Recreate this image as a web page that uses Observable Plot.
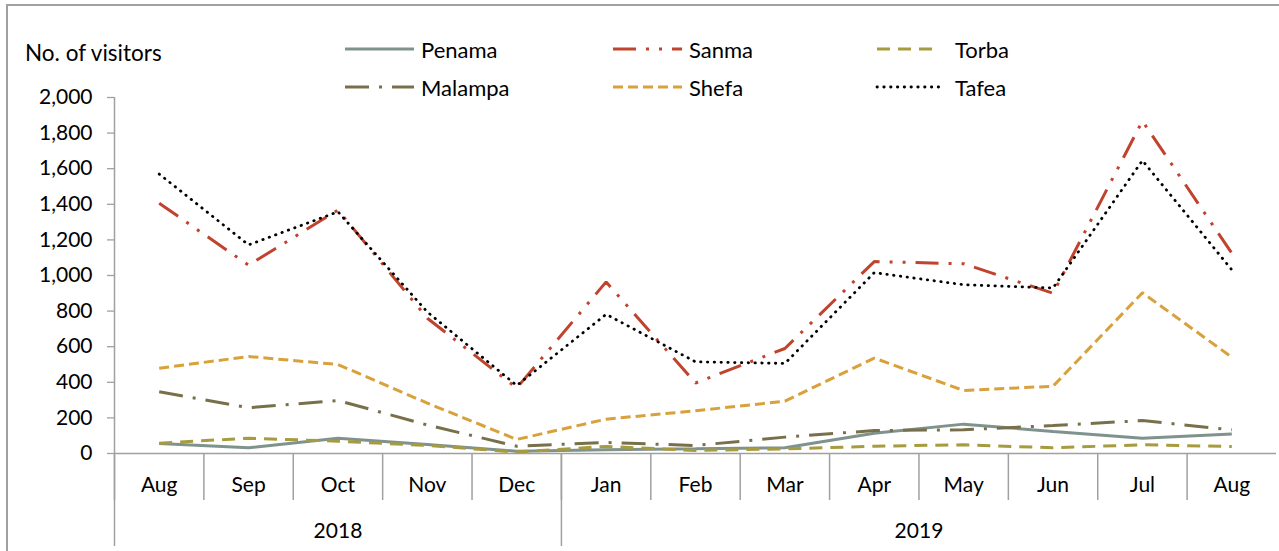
<!DOCTYPE html>
<html>
<head>
<meta charset="utf-8">
<script src="https://cdn.jsdelivr.net/npm/d3@7"></script>
<script src="https://cdn.jsdelivr.net/npm/@observablehq/plot@0.6"></script>
<style>
  body { margin: 0; background: #fff; }
  #wrap { position: relative; width: 1279px; height: 551px; overflow: hidden; font-family: Lato, sans-serif; }
  #frame { position: absolute; left: 6px; top: 4px; width: 1300px; height: 600px; border-left: 2px solid #a0a0a0; border-top: 2px solid #a0a0a0; box-sizing: border-box; }
  #title { position: absolute; left: 25px; top: 39px; font-size: 22.5px; color: #000; white-space: nowrap; }
  .leg { position: absolute; display: flex; align-items: center; font-size: 22px; color: #000; white-space: nowrap; }
  #chart { position: absolute; left: 0; top: 0; }
</style>
</head>
<body>
<div id="wrap">
  <div id="chart"></div>
  <div id="frame"></div>
  <div id="title">No. of visitors</div>
  <div id="legend"></div>
</div>
<script>
// ---- data ----
const months = ["Aug","Sep","Oct","Nov","Dec","Jan","Feb","Mar","Apr","May","Jun","Jul","Aug"];
const years  = ["2018","2018","2018","2018","2018","2019","2019","2019","2019","2019","2019","2019","2019"];
const yTicks = [0,200,400,600,800,1000,1200,1400,1600,1800,2000];

const seriesNames = ["Penama","Sanma","Torba","Malampa","Shefa","Tafea"];
const penama  = [56, 32, 86, 50, 13, 21, 26, 32, 114, 165, 124, 86, 110];
const sanma   = [1406, 1058, 1368, 760, 368, 964, 396, 590, 1078, 1066, 900, 1868, 1125];
const torba   = [58, 86, 69, 45, 8, 40, 17, 26, 41, 49, 32, 49, 39];
const malampa = [347, 257, 298, 160, 41, 62, 45, 92, 129, 133, 157, 185, 133];
const shefa   = [479, 545, 500, 283, 79, 193, 240, 294, 536, 354, 378, 903, 541];
const tafea   = [1570, 1172, 1358, 795, 382, 782, 515, 506, 1016, 948, 930, 1646, 1032];

// ---- styles ----
const styles = {
  Penama:  {stroke: "#7f938c", strokeWidth: 3,   dash: null,                 cap: "butt"},
  Sanma:   {stroke: "#c0432d", strokeWidth: 3,   dash: "23 10 3 10 3 10",    cap: "butt"},
  Torba:   {stroke: "#a69b3f", strokeWidth: 3,   dash: "13 8",               cap: "butt"},
  Malampa: {stroke: "#78704a", strokeWidth: 3,   dash: "24 10 3 10",         cap: "butt"},
  Shefa:   {stroke: "#d9a13b", strokeWidth: 3,   dash: "10 5",               cap: "butt"},
  Tafea:   {stroke: "#000000", strokeWidth: 2.8, dash: "0.4 6.4",            cap: "round"}
};
const seriesValues = {Penama: penama, Sanma: sanma, Torba: torba, Malampa: malampa, Shefa: shefa, Tafea: tafea};

const idx = months.map((_, i) => i);
const gray = "#a0a0a0";

// year groups
const yearNames = Array.from(new Set(years));
const yearGroups = yearNames.map(y => {
  const ii = idx.filter(i => years[i] === y);
  return {year: y, start: d3.min(ii) - 0.5, end: d3.max(ii) + 0.5, mid: (d3.min(ii) + d3.max(ii)) / 2};
});

const lineMarks = seriesNames.map(name => {
  const s = styles[name];
  const rows = seriesValues[name].map((v, i) => ({i, v}));
  return Plot.line(rows, {
    x: "i", y: "v", stroke: s.stroke, strokeWidth: s.strokeWidth,
    strokeDasharray: s.dash ?? undefined, strokeLinecap: s.cap, strokeLinejoin: "miter"
  });
});

const chart = Plot.plot({
  width: 1279,
  height: 551,
  marginLeft: 114,
  marginRight: 3,
  marginTop: 97,
  marginBottom: 98,
  style: {fontFamily: "Lato, sans-serif", fontSize: "21px", color: "#000", background: "transparent", overflow: "visible"},
  x: {type: "linear", domain: [-0.5, months.length - 0.5], axis: null},
  y: {domain: [0, 2000], axis: null},
  marks: [
    // y ticks
    Plot.axisY({ticks: yTicks, tickSize: 7, tickFormat: () => "", stroke: gray, strokeWidth: 1.3, label: null}),
    Plot.axisY({ticks: yTicks, tickSize: 0, tickPadding: 22, tickFormat: d3.format(","), fill: "#000", label: null}),
    // axis lines
    Plot.ruleX([-0.5], {stroke: gray, strokeWidth: 1.5}),
    Plot.ruleY([0], {stroke: gray, strokeWidth: 1.5}),
    // month separators
    Plot.axisX({ticks: idx.map(i => i - 0.5), tickSize: 47, tickFormat: () => "", stroke: gray, strokeWidth: 1.5, label: null, anchor: "bottom"}),
    // year separators
    Plot.axisX({ticks: yearGroups.map(g => g.start), tickSize: 93, tickFormat: () => "", stroke: gray, strokeWidth: 1.5, label: null, anchor: "bottom"}),
    // month labels
    Plot.text(idx, {x: d => d, text: d => months[d], frameAnchor: "bottom", dy: 38, fill: "#000"}),
    // year labels
    Plot.text(yearGroups, {x: "mid", text: "year", frameAnchor: "bottom", dy: 84, fill: "#000"}),
    ...lineMarks
  ]
});
document.getElementById("chart").appendChild(chart);

// ---- legend (HTML) ----
const legendPos = {
  Penama:  {sx: 345, sw: 69, tx: 421, cy: 49},
  Sanma:   {sx: 613, sw: 69, tx: 689, cy: 49},
  Torba:   {sx: 877, sw: 60, tx: 955, cy: 49},
  Malampa: {sx: 345, sw: 69, tx: 421, cy: 87},
  Shefa:   {sx: 613, sw: 69, tx: 689, cy: 87},
  Tafea:   {sx: 877, sw: 66, tx: 955, cy: 87}
};
const legend = document.getElementById("legend");
seriesNames.forEach(name => {
  const p = legendPos[name], s = styles[name];
  const svgNS = "http://www.w3.org/2000/svg";
  const svg = document.createElementNS(svgNS, "svg");
  svg.setAttribute("width", p.sw + 4);
  svg.setAttribute("height", 10);
  svg.style.position = "absolute";
  svg.style.left = (p.sx - 2) + "px";
  svg.style.top = (p.cy - 5) + "px";
  const ln = document.createElementNS(svgNS, "line");
  ln.setAttribute("x1", 2); ln.setAttribute("x2", p.sw + 2);
  ln.setAttribute("y1", 5); ln.setAttribute("y2", 5);
  ln.setAttribute("stroke", s.stroke);
  ln.setAttribute("stroke-width", s.strokeWidth);
  ln.setAttribute("stroke-linecap", s.cap);
  if (s.dash) ln.setAttribute("stroke-dasharray", s.dash);
  svg.appendChild(ln);
  legend.appendChild(svg);
  const t = document.createElement("div");
  t.className = "leg";
  t.textContent = name;
  t.style.left = p.tx + "px";
  t.style.top = (p.cy - 14) + "px";
  t.style.height = "28px";
  legend.appendChild(t);
});
</script>
</body>
</html>
